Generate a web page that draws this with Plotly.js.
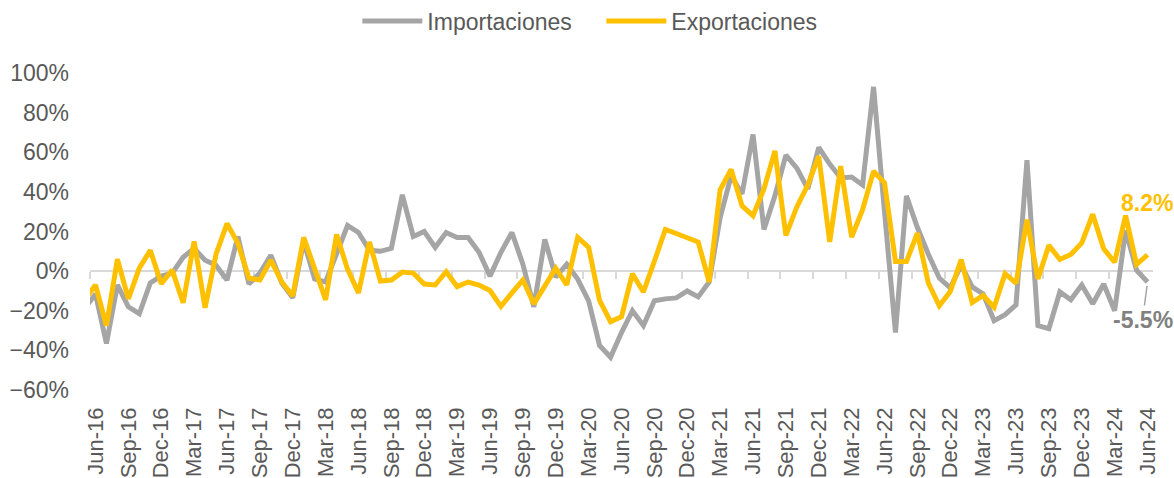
<!DOCTYPE html>
<html>
<head>
<meta charset="utf-8">
<script src="https://cdn.plot.ly/plotly-3.0.1.min.js"></script>
<style>html,body{margin:0;padding:0;background:#fff;}#chart{width:1174px;height:478px;}</style>
</head>
<body>
<div id="chart"></div>
<script>
const months = [
'May-16','Jun-16','Jul-16','Aug-16','Sep-16','Oct-16','Nov-16','Dec-16',
'Jan-17','Feb-17','Mar-17','Apr-17','May-17','Jun-17','Jul-17','Aug-17','Sep-17','Oct-17','Nov-17','Dec-17',
'Jan-18','Feb-18','Mar-18','Apr-18','May-18','Jun-18','Jul-18','Aug-18','Sep-18','Oct-18','Nov-18','Dec-18',
'Jan-19','Feb-19','Mar-19','Apr-19','May-19','Jun-19','Jul-19','Aug-19','Sep-19','Oct-19','Nov-19','Dec-19',
'Jan-20','Feb-20','Mar-20','Apr-20','May-20','Jun-20','Jul-20','Aug-20','Sep-20','Oct-20','Nov-20','Dec-20',
'Jan-21','Feb-21','Mar-21','Apr-21','May-21','Jun-21','Jul-21','Aug-21','Sep-21','Oct-21','Nov-21','Dec-21',
'Jan-22','Feb-22','Mar-22','Apr-22','May-22','Jun-22','Jul-22','Aug-22','Sep-22','Oct-22','Nov-22','Dec-22',
'Jan-23','Feb-23','Mar-23','Apr-23','May-23','Jun-23','Jul-23','Aug-23','Sep-23','Oct-23','Nov-23','Dec-23',
'Jan-24','Feb-24','Mar-24','Apr-24','May-24','Jun-24'];

const tickLabels = ['Jun-16','Sep-16','Dec-16','Mar-17','Jun-17','Sep-17','Dec-17','Mar-18','Jun-18','Sep-18','Dec-18',
'Mar-19','Jun-19','Sep-19','Dec-19','Mar-20','Jun-20','Sep-20','Dec-20','Mar-21','Jun-21','Sep-21','Dec-21',
'Mar-22','Jun-22','Sep-22','Dec-22','Mar-23','Jun-23','Sep-23','Dec-23','Mar-24','Jun-24'];

const importaciones = [-19, -11.5, -36.5, -7, -18, -21.5, -6, -2.5, -1, 7, 11.5, 5.5, 3, -4.5, 17.5, -6.5, -1, 8, -6, -13.5,
15, -4, -5.5, 8, 23, 19.5, 10.5, 10, 11.5, 38.5, 17.5, 20, 12, 19.5, 17, 17, 9.5, -2.5, 9.5, 19.5,
3.5, -18, 16, -3, 3.5, -4, -15, -37.5, -43.5, -31, -20, -27.5, -15, -14, -13.5, -10, -13, -5.5, 27, 48,
39, 69, 21, 38, 58.5, 52, 41.5, 62.5, 54, 47, 47.5, 43.5, 93, 30, -31, 38, 22, 8.5, -3.5, -8.5,
3, -8, -11.5, -25, -22, -17, 56, -27.5, -29, -10.5, -14.5, -7, -16.5, -6.5, -20, 20.5, 0.5, -5.5];

const exportaciones = [-14.5, -7, -27.5, 6, -14, 1.5, 10.5, -6.3, 0.5, -16, 15, -18.5, 8.5, 24, 14, -3.5, -4.5, 5.5, -5.5, -12.5,
17, 1, -14.5, 18.5, 1, -11, 14.7, -5, -4.5, -0.5, -1, -6.5, -7, -0.3, -7.8, -5.5, -7, -9.8, -17.8, -11,
-4.5, -16.5, -7, 1.5, -7, 17, 12, -14.8, -25.5, -23, -1.3, -10.5, 5, 21, 19, 16.8, 14.7, -5.5, 41, 51.3,
33, 28, 41.5, 60.7, 18, 32.4, 43.5, 58, 14.7, 53, 17.2, 31, 50.5, 44.5, 4.9, 4.9, 19.2, -6, -17.5, -10.3,
5.8, -15.8, -12.3, -18.2, -1.3, -6.1, 26, -3.9, 13, 5.9, 8.4, 14.2, 28.7, 11.3, 4.5, 28.1, 3.4, 8.2];

const seriesNames = ['Importaciones', 'Exportaciones'];

const idx = months.map((m, i) => i);
const tickIdx = tickLabels.map(l => months.indexOf(l));
const xRange = [0.5, months.length - 0.5];
const yRange = [-60, 100];
const FONT = 'Liberation Sans, Arial, sans-serif';
const TXT = '#595959';
const GRAY = '#A5A5A5';
const GOLD = '#FFC000';

const traces = [
  {x: idx, y: importaciones, name: seriesNames[0], type: 'scatter', mode: 'lines',
   line: {color: GRAY, width: 5}, xaxis: 'x', yaxis: 'y', hoverinfo: 'skip'},
  {x: idx, y: exportaciones, name: seriesNames[1], type: 'scatter', mode: 'lines',
   line: {color: GOLD, width: 5}, xaxis: 'x2', yaxis: 'y', hoverinfo: 'skip'}
];

const last = months.length - 1;
const layout = {
  width: 1174, height: 478,
  margin: {l: 90, r: 21, t: 73, b: 88, autoexpand: false},
  paper_bgcolor: '#fff', plot_bgcolor: '#fff',
  font: {family: FONT, size: 23, color: TXT},
  showlegend: true,
  legend: {orientation: 'h', x: 0.2515, xanchor: 'left', y: 1.164, yanchor: 'middle',
           font: {family: FONT, size: 23, color: TXT}, itemwidth: 60, tracegroupgap: 0,
           entrywidth: 169, entrywidthmode: 'pixels',
           bgcolor: 'rgba(0,0,0,0)'},
  xaxis: {type: 'linear', range: xRange, tickmode: 'array', tickvals: tickIdx, ticktext: tickLabels,
          tickangle: -90, ticks: '', showgrid: false, zeroline: false, showline: false,
          tickfont: {family: FONT, size: 22, color: TXT}, ticklabelstandoff: 12, fixedrange: true},
  xaxis2: {type: 'linear', range: xRange, overlaying: 'x', anchor: 'free',
           position: (0 - yRange[0]) / (yRange[1] - yRange[0]),
           tickmode: 'array', tickvals: tickIdx.map(v => v - 0.5), showticklabels: false,
           ticks: 'outside', ticklen: 7, tickwidth: 2, tickcolor: '#D9D9D9',
           showline: true, linecolor: '#D9D9D9', linewidth: 2, showgrid: false, zeroline: false,
           layer: 'below traces'},
  yaxis: {range: yRange, tickmode: 'linear', tick0: -60, dtick: 20, ticksuffix: '%',
          showgrid: false, zeroline: false, showline: false, ticks: '',
          tickfont: {family: FONT, size: 23, color: TXT}, ticklabelstandoff: 20},
  annotations: [
    {x: last, y: exportaciones[last], xref: 'x', yref: 'y',
     text: '<b>' + exportaciones[last].toFixed(1) + '%</b>', showarrow: false,
     yshift: 52, xshift: -1, font: {family: FONT, size: 23, color: GOLD}},
    {x: last, y: importaciones[last], xref: 'x', yref: 'y',
     text: '<b>' + importaciones[last].toFixed(1) + '%</b>', showarrow: true,
     ax: -5, ay: 38, arrowhead: 0, arrowwidth: 1.5, arrowcolor: GRAY, standoff: 4,
     font: {family: FONT, size: 23, color: '#808080'}}
  ]
};

Plotly.newPlot('chart', traces, layout, {staticPlot: true, displayModeBar: false});
</script>
</body>
</html>
